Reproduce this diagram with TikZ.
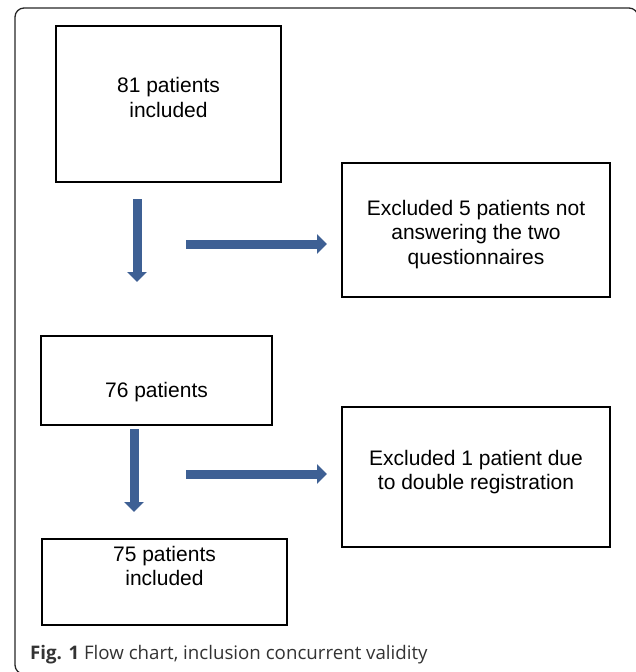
\documentclass[tikz,border=0pt]{standalone}
\usepackage{fontspec}
\setmainfont{Liberation Sans}
\newfontfamily\capfont{Open Sans}
\usepackage{xcolor}
\usetikzlibrary{arrows.meta}
\definecolor{flowblue}{RGB}{62,96,148}

\begin{document}
\begin{tikzpicture}[x=1pt, y=-1pt,
  box/.style={draw, line width=2.2pt, inner sep=0pt},
  txt/.style={align=center, inner sep=0pt, font=\fontsize{21}{24.5}\selectfont},
  flow/.style={flowblue, line width=9pt, -{Triangle[length=10pt, width=19pt]}}]
  \useasboundingbox (0,0) rectangle (635,672);

  % --- 1. Frame ---
  \draw[line width=1.3pt, black!85, rounded corners=9pt]
    (40,674) -- (15,674) -- (15,8) -- (638,8) -- (638,40);

  % --- 2. Boxes ---
  \node[box, minimum width=225pt, minimum height=156pt] (inc81) at (168.5,104) {};
  \node[box, minimum width=268pt, minimum height=134pt] (exc5) at (476,230) {};
  \node[box, minimum width=231pt, minimum height=89pt] (pat76) at (156.5,380.5) {};
  \node[box, minimum width=268pt, minimum height=140pt] (exc1) at (476,477) {};
  \node[box, minimum width=245pt, minimum height=86pt] (inc75) at (164.5,582) {};

  % --- 3. Texts ---
  \node[txt] (t81) at (168.5,97.5) {81 patients\\included};
  \node[txt] (t5) at (476,234.5) {Excluded 5 patients not\\answering the two\\questionnaires};
  \node[txt] (t76) at (156.5,392) {76 patients};
  \node[txt] (t1) at (476,472) {Excluded 1 patient due\\to double registration};
  \node[txt] (t75) at (164.5,566) {75 patients\\included};

  % --- 4. Arrows ---
  % first step
  \coordinate (down1a) at (137,199);
  \coordinate (down1b) at (137,282);
  \coordinate (right1a) at (186,244);
  \coordinate (right1b) at (327,244);
  \draw[flow] (down1a) -- (down1b);
  \draw[flow] (right1a) -- (right1b);
  % second step
  \coordinate (down2a) at (134,429);
  \coordinate (down2b) at (134,512);
  \coordinate (right2a) at (186,474);
  \coordinate (right2b) at (327,474);
  \draw[flow] (down2a) -- (down2b);
  \draw[flow] (right2a) -- (right2b);

  % --- 5. Caption ---
  \node[anchor=base west, inner sep=0pt, text=black!80,
        font=\capfont\fontsize{18.7}{20}\selectfont] (cap) at (30,659)
    {\textbf{Fig. 1} Flow chart, inclusion concurrent validity};

\end{tikzpicture}
\end{document}
